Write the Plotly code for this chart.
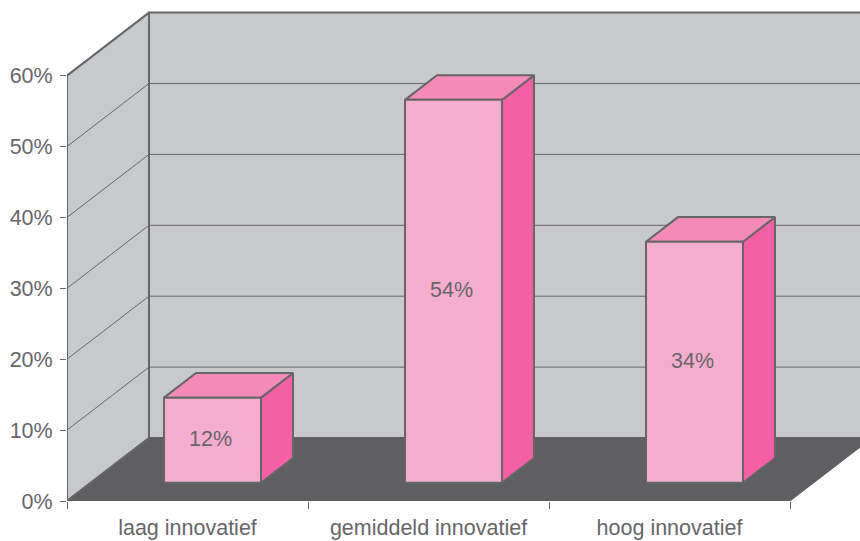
import plotly.graph_objects as go

categories = ["laag innovatief", "gemiddeld innovatief", "hoog innovatief"]
values = [12, 54, 34]
value_ticks = [0, 10, 20, 30, 40, 50, 60]

W, H = 860, 541
ML, MB = 67, 40
PX_X = 241.0   # pixels per category
PX_Y = 7.09    # pixels per percentage point
X_MAX = (W - ML) / PX_X
Y_MAX = (H - MB) / PX_Y
DX = 82 / PX_X   # chart depth in category units
DY = 63 / PX_Y   # chart depth in value units
BAR_W = 97 / PX_X
D_FRONT_X, D_FRONT_Y, D_SPAN = 0.305, 0.29, 0.39
TOP = value_ticks[-1]
NC = len(categories)

EDGE = "#666668"
TEXT = "#666668"
WALL = "#C8C9CB"
FLOOR = "#5F5F61"
C_FRONT, C_TOP, C_SIDE = "#F5ADCF", "#F48AB8", "#F45FA6"
FONT = "Liberation Sans, Arial, sans-serif"
FS = 21.5

fig = go.Figure()


def poly(xs, ys, fill, line=EDGE, width=2):
    fig.add_trace(go.Scatter(
        x=xs, y=ys, mode="lines", fill="toself", fillcolor=fill,
        line=dict(color=line, width=width), hoverinfo="skip", showlegend=False))


def seg(xs, ys, width=1, color=EDGE):
    fig.add_trace(go.Scatter(
        x=xs, y=ys, mode="lines", line=dict(color=color, width=width),
        hoverinfo="skip", showlegend=False))


# walls and floor
poly([0, 0, DX, DX, 0], [0, TOP, TOP + DY, DY, 0], WALL, width=2)
poly([DX, DX, X_MAX + 0.1, X_MAX + 0.1, DX], [DY, TOP + DY, TOP + DY, DY, DY], WALL, width=2)
for v in value_ticks[1:-1]:
    seg([0, DX, X_MAX + 0.1], [v, v + DY, v + DY], width=1)
poly([0, NC, NC + DX, DX, 0], [0, 0, DY, DY, 0], FLOOR, line=FLOOR, width=1)
seg([0, DX, DX], [0, DY, TOP + DY], width=2)
seg([0, 0], [0, TOP], width=2)

# 3D bars
lab_x, lab_y, lab_t = [], [], []
for i, v in enumerate(values):
    x0 = i + 0.5 + DX * D_FRONT_X - BAR_W / 2
    x1 = x0 + BAR_W
    y0 = DY * D_FRONT_Y
    y1 = y0 + v
    ox = DX * D_SPAN
    oy = DY * D_SPAN
    poly([x1, x1 + ox, x1 + ox, x1, x1], [y0, y0 + oy, y1 + oy, y1, y0], C_SIDE)
    poly([x0, x0 + ox, x1 + ox, x1, x0], [y1, y1 + oy, y1 + oy, y1, y1], C_TOP)
    poly([x0, x1, x1, x0, x0], [y0, y0, y1, y1, y0], C_FRONT)
    lab_x.append((x0 + x1) / 2 - 2 / PX_X)
    lab_y.append((y0 + y1) / 2)
    lab_t.append(f"{v}%")

fig.add_trace(go.Scatter(
    x=lab_x, y=lab_y, text=lab_t, mode="text", textposition="middle center",
    textfont=dict(family=FONT, size=FS, color=TEXT), hoverinfo="skip", showlegend=False))

fig.update_layout(
    width=W, height=H, margin=dict(l=ML, r=0, t=0, b=MB, pad=0),
    paper_bgcolor="white", plot_bgcolor="white", showlegend=False,
    font=dict(family=FONT, size=FS, color=TEXT),
    xaxis=dict(
        range=[0, X_MAX], showgrid=False, zeroline=False, showline=False,
        tickmode="array", tickvals=[i + 0.5 for i in range(NC)], ticktext=categories,
        ticks="", ticklabelstandoff=11,
        minor=dict(tickmode="array", tickvals=list(range(NC + 1)), ticks="outside",
                   ticklen=7, tickwidth=1, tickcolor=EDGE, showgrid=False),
    ),
    yaxis=dict(
        range=[0, Y_MAX], showgrid=False, zeroline=False, showline=False,
        tickmode="array", tickvals=value_ticks, ticktext=[f"{v}%" for v in value_ticks],
        ticks="outside", ticklen=6, tickwidth=1, tickcolor=EDGE, ticklabelstandoff=3,
    ),
)

fig.write_html(
    "out.html",
    config={"displayModeBar": False},
    post_script="document.body.style.margin='0';document.body.style.overflow='hidden';",
)
